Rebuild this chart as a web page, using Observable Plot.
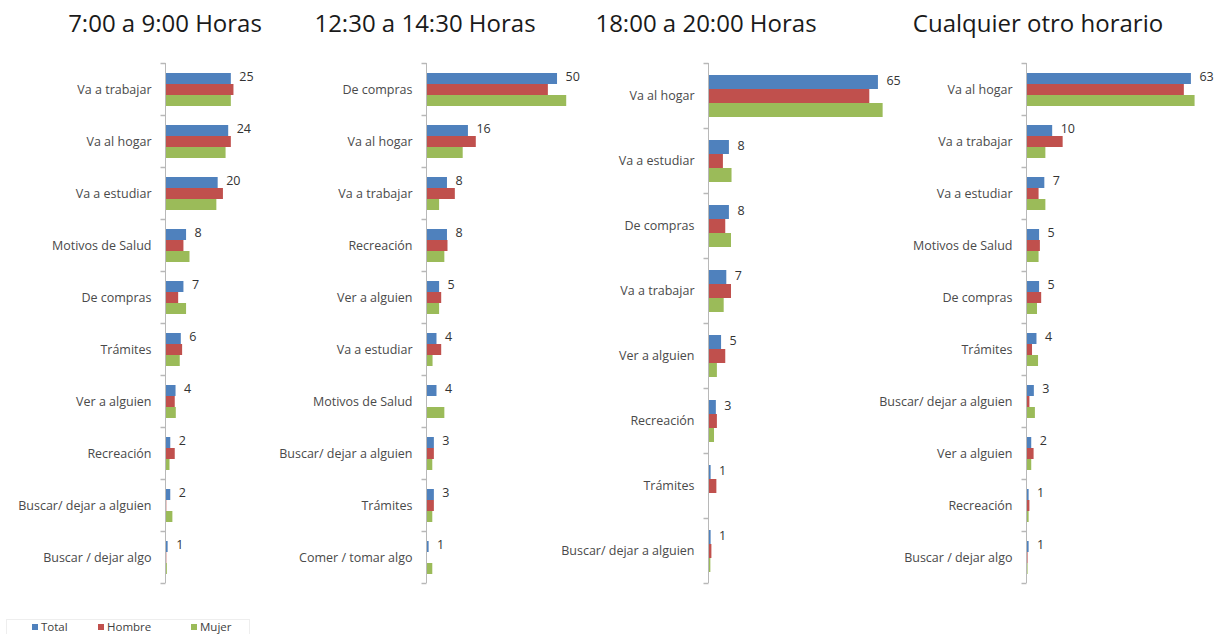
<!DOCTYPE html>
<html>
<head>
<meta charset="utf-8">
<script src="https://cdn.jsdelivr.net/npm/d3@7"></script>
<script src="https://cdn.jsdelivr.net/npm/@observablehq/plot@0.6"></script>
<style>
  body { margin: 0; background: #fff; }
  #wrap { position: relative; width: 1219px; height: 634px; overflow: hidden; font-family: "Open Sans", "Liberation Sans", sans-serif; }
  .title { position: absolute; top: 6px; font-size: 24px; color: #1a1a1a; white-space: nowrap; transform: translateX(-50%); }
  .panel { position: absolute; top: 62px; }
  .panel svg { background: transparent !important; overflow: visible; max-width: none !important; }
  #legend { position: absolute; left: 6px; top: 619px; width: 242px; height: 14px; border: 1px solid #eee; font-size: 11.5px; color: #404040; }
  #legend span.item { position: absolute; top: -1px; white-space: nowrap; }
  #legend span.sw { display: inline-block; width: 6px; height: 6px; margin-right: 3px; vertical-align: 1px; }
</style>
</head>
<body>
<div id="wrap"></div>
<script>
// ---- data ----
const series = ["Total", "Hombre", "Mujer"];
const colors = ["#4F81BD", "#C0504D", "#9BBB59"];
const titles = ["7:00 a 9:00 Horas", "12:30 a 14:30 Horas", "18:00 a 20:00 Horas", "Cualquier otro horario"];

const cats1 = ["Va a trabajar","Va al hogar","Va a estudiar","Motivos de Salud","De compras","Trámites","Ver a alguien","Recreación","Buscar/ dejar a alguien","Buscar / dejar algo"];
const total1 = [25,24,20,8,7,6,4,2,2,1];
const hombre1 = [26,25,22,7,5,6.5,3.7,3.7,0.5,0.5];
const mujer1 = [25,23,19.5,9.3,8,5.6,4.1,1.7,2.8,0.7];

const cats2 = ["De compras","Va al hogar","Va a trabajar","Recreación","Ver a alguien","Va a estudiar","Motivos de Salud","Buscar/ dejar a alguien","Trámites","Comer / tomar algo"];
const total2 = [50,16,8,8,5,4,4,3,3,1];
const hombre2 = [46.5,19,11,8.2,5.8,5.8,0,3,3,0];
const mujer2 = [53.5,14,5,7,5,2.5,7,2.4,2.4,2.4];

const cats3 = ["Va al hogar","Va a estudiar","De compras","Va a trabajar","Ver a alguien","Recreación","Trámites","Buscar/ dejar a alguien"];
const total3 = [65,8,8,7,5,3,1,1];
const hombre3 = [61.7,5.7,6.6,8.8,6.6,3.4,3.2,1.3];
const mujer3 = [66.8,9,8.8,6,3.4,2.3,0.3,0.9];

const cats4 = ["Va al hogar","Va a trabajar","Va a estudiar","Motivos de Salud","De compras","Trámites","Buscar/ dejar a alguien","Ver a alguien","Recreación","Buscar / dejar algo"];
const total4 = [63,10,7,5,5,4,3,2,1,1];
const hombre4 = [60.3,14,4.8,5.3,5.8,2.3,1.3,2.9,1.3,0.6];
const mujer4 = [64.4,7.4,7.4,4.8,4.2,4.6,3.4,2,1,0.6];

// ---- layout ----
const pxPerUnit = 2.62;
const panels = [
  {cats: cats1, t: total1, h: hombre1, m: mujer1, left: 0, ml: 165, xmax: 30, title: titles[0], tc: 165},
  {cats: cats2, t: total2, h: hombre2, m: mujer2, left: 262, ml: 164, xmax: 58, title: titles[1], tc: 425},
  {cats: cats3, t: total3, h: hombre3, m: mujer3, left: 550, ml: 158, xmax: 70, title: titles[2], tc: 706},
  {cats: cats4, t: total4, h: hombre4, m: mujer4, left: 865, ml: 161, xmax: 68, title: titles[3], tc: 1038}
];

const wrap = document.getElementById("wrap");
const tickSym = { draw(ctx) { ctx.moveTo(-5, 0); ctx.lineTo(0, 0); } };
const font = "'Open Sans', 'Liberation Sans', sans-serif";

panels.forEach(p => {
  const rows = [];
  p.cats.forEach((c, i) => {
    rows.push({cat: c, s: "Total", v: p.t[i]});
    rows.push({cat: c, s: "Hombre", v: p.h[i]});
    rows.push({cat: c, s: "Mujer", v: p.m[i]});
  });
  const totals = rows.filter(r => r.s === "Total");
  const mr = 30;
  const width = Math.round(p.ml + p.xmax * pxPerUnit + mr);
  const chart = Plot.plot({
    width, height: 521,
    marginLeft: p.ml, marginRight: mr, marginTop: 0, marginBottom: 0,
    style: {fontFamily: font, background: "transparent", overflow: "visible"},
    x: {domain: [0, p.xmax], axis: null},
    y: {domain: series, axis: null, paddingInner: 0, paddingOuter: 0.75},
    fy: {domain: p.cats, padding: 0, axis: null},
    color: {domain: series, range: colors},
    marks: [
      Plot.barX(rows, {fy: "cat", y: "s", x: "v", fill: "s"}),
      Plot.ruleX([0], {stroke: "#b8b8b8", strokeWidth: 1}),
      Plot.dot(p.cats, {fy: d => d, frameAnchor: "top-left", symbol: tickSym, stroke: "#b8b8b8", fill: "none", r: 5}),
      Plot.dot([p.cats[p.cats.length - 1]], {fy: d => d, frameAnchor: "bottom-left", symbol: tickSym, stroke: "#b8b8b8", fill: "none", r: 5}),
      Plot.text(totals, {fy: "cat", y: "s", x: "v", text: d => String(d.v), dx: 8, dy: -2, textAnchor: "start", fontSize: 12.5, fill: "#333"}),
      Plot.axisFy({anchor: "left", tickSize: 0, tickPadding: 14, label: null, fontSize: 12.5, color: "#4a4a4a"})
    ]
  });
  const div = document.createElement("div");
  div.className = "panel";
  div.style.left = p.left + "px";
  div.style.width = width + "px";
  div.appendChild(chart);
  wrap.appendChild(div);

  const t = document.createElement("div");
  t.className = "title";
  t.style.left = p.tc + "px";
  t.textContent = p.title;
  wrap.appendChild(t);
});

// legend
const legend = document.createElement("div");
legend.id = "legend";
const lx = [25, 91, 184];
series.forEach((s, i) => {
  const it = document.createElement("span");
  it.className = "item";
  it.style.left = lx[i] + "px";
  it.innerHTML = `<span class="sw" style="background:${colors[i]}"></span>${s}`;
  legend.appendChild(it);
});
wrap.appendChild(legend);
</script>
</body>
</html>
